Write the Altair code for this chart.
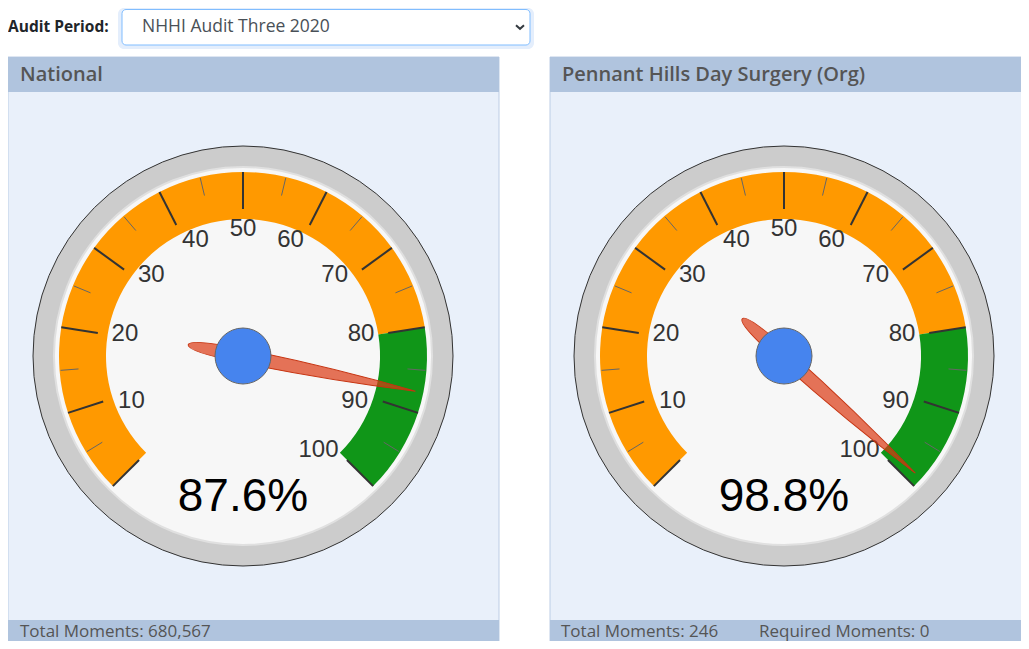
import math
import altair as alt
import pandas as pd

# ---------------- data ----------------
audit_caption = "Audit Period:"
audit_period = "NHHI Audit Three 2020"
panel_titles = ["National", "Pennant Hills Day Surgery (Org)"]
gauge_values = [87.6, 98.8]
footer_texts = ["Total Moments: 680,567", "Total Moments: 246", "Required Moments: 0"]
band_starts = [0, 80]
band_ends = [80, 100]
band_colors = ["#FF9900", "#109618"]
major_ticks = [0, 10, 20, 30, 40, 50, 60, 70, 80, 90, 100]
minor_ticks = [5, 15, 25, 35, 45, 55, 65, 75, 85, 95]
label_values = [10, 20, 30, 40, 50, 60, 70, 80, 90, 100]
tick_labels = ["10", "20", "30", "40", "50", "60", "70", "80", "90", "100"]

# ---------------- layout (page pixels) ----------------
OFF = 8
W, H = 1013, 633
panel_left = [8, 550]
panel_right = [499, 1040]
footer_x = [20, 561, 759]
gauge_cx = [243, 784]
gauge_cy = 356
R_OUTER, R_INNER = 210, 189
R_BAND_OUT, R_BAND_IN = 184, 137
NEEDLE_LEN = 176
NEEDLE = ("M0,-1 C0.02,-0.75 0.039,-0.35 0.039,0 C0.039,0.2 0.025,0.318 0,0.318 "
          "C-0.025,0.318 -0.039,0.2 -0.039,0 C-0.039,-0.35 -0.02,-0.75 0,-1 Z")
CHEVRON = "M-1,-0.45 L0,0.45 L1,-0.45"


def V(p):
    return alt.value(p - OFF)


XN = lambda f: alt.X(f, type="quantitative", scale=None)
YN = lambda f: alt.Y(f, type="quantitative", scale=None)

one = pd.DataFrame({"k": [0]})

panels = pd.DataFrame({
    "title": panel_titles,
    "x0": [p - OFF for p in panel_left],
    "x1": [p - OFF for p in panel_right],
})
footers = pd.DataFrame({"text": footer_texts, "tx": [p - OFF for p in footer_x]})

gauges = pd.DataFrame({
    "gauge": [0, 1],
    "value": gauge_values,
    "cx": [c - OFF for c in gauge_cx],
    "cy": [gauge_cy - OFF] * 2,
})
bands = gauges.merge(pd.DataFrame({"start": band_starts, "end": band_ends, "color": band_colors}), how="cross")
majors = gauges.merge(pd.DataFrame({"tick": major_ticks}), how="cross")
minors = gauges.merge(pd.DataFrame({"tick": minor_ticks}), how="cross")
labels = gauges.merge(pd.DataFrame({"tick": label_values, "label": tick_labels}), how="cross")

ANG = "(datum.tick * 2.7 - 135) * PI / 180"

# ---------------- header controls ----------------
caption = alt.Chart(one).mark_text(
    text=audit_caption, align="left", baseline="middle", font="Open Sans",
    fontSize=15.5, fontWeight="bold", color="#212529"
).encode(x=V(8), y=V(27))

glow = alt.Chart(one).mark_rect(fill="#e4eefc", cornerRadius=6).encode(
    x=V(118), x2=V(534), y=V(8), y2=V(49))
select = alt.Chart(one).mark_rect(fill="white", stroke="#80bdff", strokeWidth=1, cornerRadius=4).encode(
    x=V(122), x2=V(530), y=V(9.5), y2=V(45))
select_text = alt.Chart(one).mark_text(
    text=audit_period, align="left", baseline="middle", font="Open Sans",
    fontSize=17.5, color="#495057"
).encode(x=V(142), y=V(27))
chevron = alt.Chart(one).mark_point(
    shape=CHEVRON, filled=False, stroke="#343a40", strokeWidth=2, size=64, opacity=1
).encode(x=V(520), y=V(27))

# ---------------- panels ----------------
body = alt.Chart(panels).mark_rect(fill="#e9f0fa", stroke="#bccde5", strokeWidth=1).encode(
    x=XN("x0"), x2="x1", y=V(57), y2=V(660))
header = alt.Chart(panels).mark_rect(fill="#b0c4de").encode(
    x=XN("x0"), x2="x1", y=V(57), y2=V(92))
footer = alt.Chart(panels).mark_rect(fill="#b0c4de").encode(
    x=XN("x0"), x2="x1", y=V(620), y2=V(660))
title = alt.Chart(panels).transform_calculate(tx="datum.x0 + 12").mark_text(
    align="left", baseline="alphabetic", font="Open Sans", fontSize=20, fontWeight=600, color="#555555"
).encode(x=XN("tx"), y=V(81), text="title:N")
foot_text = alt.Chart(footers).mark_text(
    align="left", baseline="alphabetic", font="Open Sans", fontSize=17, color="#555555"
).encode(x=XN("tx"), y=V(637), text="text:N")

# ---------------- gauges ----------------
outer = alt.Chart(gauges).mark_arc(
    radius=R_OUTER, theta=0, theta2=2 * math.pi, fill="#cccccc", stroke="#333333", strokeWidth=1
).encode(x=XN("cx"), y=YN("cy"))
inner = alt.Chart(gauges).mark_arc(
    radius=R_INNER, theta=0, theta2=2 * math.pi, fill="#f7f7f7", stroke="#e0e0e0", strokeWidth=2
).encode(x=XN("cx"), y=YN("cy"))

theta_scale = alt.Scale(domain=[0, 100], range=[1.25 * math.pi, 2.75 * math.pi])
band = alt.Chart(bands).mark_arc(radius=R_BAND_OUT, radius2=R_BAND_IN).encode(
    x=XN("cx"), y=YN("cy"),
    theta=alt.Theta("start:Q", scale=theta_scale, stack=None),
    theta2="end:Q",
    color=alt.Color("color:N", scale=None),
)


def tick_layer(df, r1, r2, color, width):
    return alt.Chart(df).transform_calculate(
        a=ANG
    ).transform_calculate(
        xa=f"datum.cx + {r1} * sin(datum.a)", ya=f"datum.cy - {r1} * cos(datum.a)",
        xb=f"datum.cx + {r2} * sin(datum.a)", yb=f"datum.cy - {r2} * cos(datum.a)",
    ).mark_rule(color=color, strokeWidth=width).encode(
        x=XN("xa"), y=YN("ya"), x2="xb", y2="yb")


minor = tick_layer(minors, 183, 165, "#666666", 1)
major = tick_layer(majors, 184, 147, "#333333", 2)

label = alt.Chart(labels).transform_calculate(a=ANG).transform_calculate(
    la="datum.a - 0.105 * sin(2 * datum.a)",
    lr="120 + 8 * pow(max(cos(datum.a), 0), 2)",
).transform_calculate(
    lx="datum.cx + datum.lr * sin(datum.la)", ly="datum.cy + 1 - datum.lr * cos(datum.la)"
).mark_text(font="Liberation Sans", fontSize=24, color="#333333", align="center", baseline="middle").encode(
    x=XN("lx"), y=YN("ly"), text="label:N")

value_text = alt.Chart(gauges).transform_calculate(
    txt="format(datum.value, '.1f') + '%'", ty="datum.cy + 155"
).mark_text(font="Liberation Sans", fontSize=46, color="#000000", align="center", baseline="alphabetic").encode(
    x=XN("cx"), y=YN("ty"), text="txt:N")

needle = alt.Chart(gauges).transform_calculate(
    ang="(datum.value * 2.7 + 225) % 360"
).mark_point(
    shape=NEEDLE, filled=True, fill="#dc3912", fillOpacity=0.7, stroke="#c63310", strokeWidth=1,
    opacity=1, size=(2 * NEEDLE_LEN) ** 2
).encode(x=XN("cx"), y=YN("cy"), angle=alt.Angle("ang:Q", scale=None))

hub = alt.Chart(gauges).mark_arc(
    radius=28, theta=0, theta2=2 * math.pi, fill="#4684ee", stroke="#666666", strokeWidth=1
).encode(x=XN("cx"), y=YN("cy"))

chart = alt.layer(
    caption, glow, select, select_text, chevron,
    body, header, footer, title, foot_text,
    outer, inner, band, minor, major, label, value_text, needle, hub,
).properties(
    width=W, height=H, padding=0, autosize=alt.AutoSizeParams(type="none"), background="white"
).configure_view(stroke=None)

chart.save("out.html", embed_options={"renderer": "svg", "actions": False})
